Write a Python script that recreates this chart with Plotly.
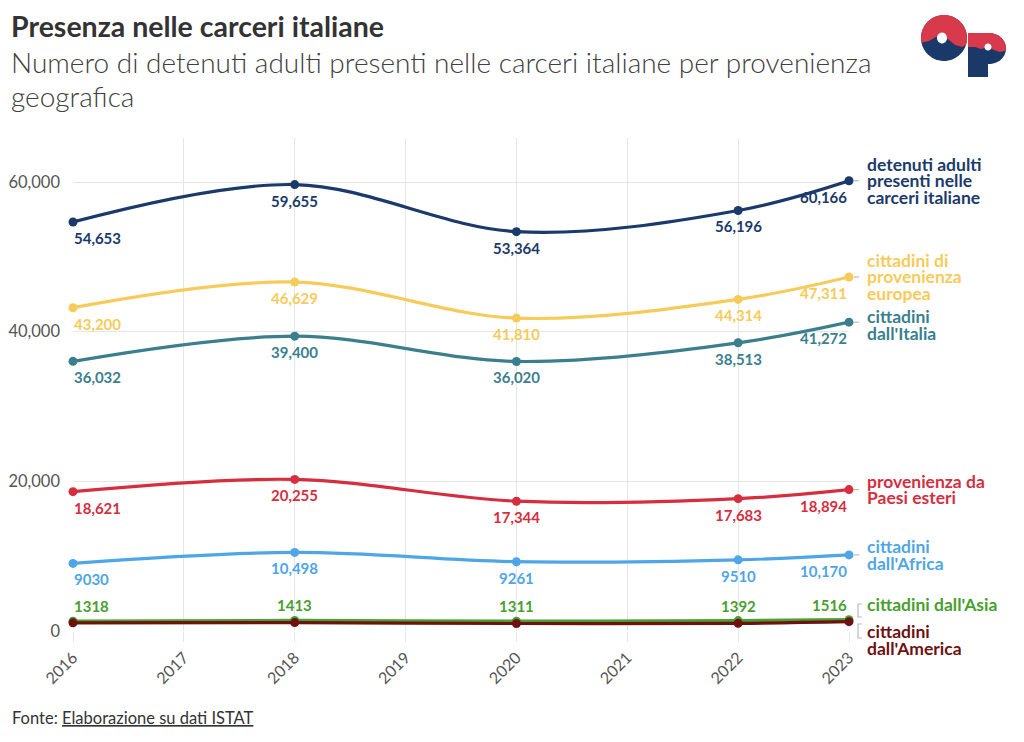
import plotly.graph_objects as go
import numpy as np

# ---------------- data ----------------
years = [2016, 2018, 2020, 2022, 2023]
detenuti = [54653, 59655, 53364, 56196, 60166]
europea = [43200, 46629, 41810, 44314, 47311]
italia = [36032, 39400, 36020, 38513, 41272]
esteri = [18621, 20255, 17344, 17683, 18894]
africa = [9030, 10498, 9261, 9510, 10170]
asia = [1318, 1413, 1311, 1392, 1516]
america = [1090, 1120, 1000, 1030, 1250]

series_labels = [
    "detenuti adulti|presenti nelle|carceri italiane",
    "cittadini di|provenienza|europea",
    "cittadini|dall'Italia",
    "provenienza da|Paesi esteri",
    "cittadini|dall'Africa",
    "cittadini dall'Asia",
    "cittadini|dall'America",
]
x_ticks = [2016, 2017, 2018, 2019, 2020, 2021, 2022, 2023]
y_ticks = [0, 20000, 40000, 60000]

# ---------------- styles ----------------
colors = ["#1b3a6b", "#f7cb5a", "#3b7f8e", "#d52f3f", "#4fa6e6", "#48a02f", "#6e1111"]
series = [detenuti, europea, italia, esteri, africa, asia, america]
label_pos = ["below", "below", "below", "below", "below", "above", None]
label_shift = [0, 0, -3, 0, 0, 15, -18]

FONT = "Lato"
OFF = 8  # page body margin
L, R, T, B = 73, 849, 138, 631
W, H = R - L, B - T
YMAX = 65880
FIG_W, FIG_H = 1024 - OFF, 742 - OFF


def px(x):
    return (x - L) / W


def py(y):
    return (B - y) / H


def fmt(v):
    return f"{v:,}" if v >= 10000 else str(v)


fig = go.Figure()

for i in range(len(series)):
    fig.add_trace(go.Scatter(
        x=years, y=series[i], mode="lines+markers",
        line=dict(color=colors[i], width=3.2, shape="spline", smoothing=1.0),
        marker=dict(color=colors[i], size=9),
        cliponaxis=False, hoverinfo="skip", showlegend=False,
    ))

annotations = []
# value labels
for i, vals in enumerate(series):
    pos = label_pos[i]
    if pos is None:
        continue
    for j, (yr, v) in enumerate(zip(years, vals)):
        if j == 0:
            xa, xs = "left", -1
        elif j == len(years) - 1:
            xa, xs = "right", 0
        else:
            xa, xs = "center", 0
        annotations.append(dict(
            x=yr, y=v, xref="x", yref="y", text=f"<b>{fmt(v)}</b>",
            showarrow=False, xanchor=xa, yanchor="middle", xshift=xs,
            yshift=(-16 if pos == "below" else 15),
            font=dict(family=FONT, size=15, color=colors[i]),
        ))

# right-side series labels
LINE_H = 16.7
for i, lab in enumerate(series_labels):
    lines = lab.split("|")
    n = len(lines)
    v = series[i][-1]
    for k, t in enumerate(lines):
        annotations.append(dict(
            x=px(865), y=v, xref="paper", yref="y", text=f"<b>{t}</b>",
            showarrow=False, xanchor="left", yanchor="middle",
            yshift=label_shift[i] - (k - (n - 1) / 2) * LINE_H,
            font=dict(family=FONT, size=17.5, color=colors[i]),
        ))

# title / subtitle / footer
annotations.append(dict(x=px(9), y=py(26), xref="paper", yref="paper",
                        text="<b>Presenza nelle carceri italiane</b>", showarrow=False,
                        xanchor="left", yanchor="middle",
                        font=dict(family=FONT, size=28.5, color="#333333")))
annotations.append(dict(x=px(9), y=py(62), xref="paper", yref="paper",
                        text="Numero di detenuti adulti presenti nelle carceri italiane per provenienza",
                        showarrow=False, xanchor="left", yanchor="middle",
                        font=dict(family=FONT, size=28, color="#404040", weight=300)))
annotations.append(dict(x=px(9), y=py(96), xref="paper", yref="paper",
                        text="geografica", showarrow=False, xanchor="left", yanchor="middle",
                        font=dict(family=FONT, size=28, color="#404040", weight=300)))
annotations.append(dict(x=px(10), y=py(718), xref="paper", yref="paper",
                        text="Fonte: <span style='text-decoration:underline'>Elaborazione su dati ISTAT</span>",
                        showarrow=False, xanchor="left", yanchor="middle",
                        font=dict(family=FONT, size=16.5, color="#333333")))

shapes = []
# connectors
for i in range(5):
    v = series[i][-1]
    shapes.append(dict(type="line", xref="paper", yref="y", x0=px(854), x1=px(859),
                       y0=v, y1=v, line=dict(color="#bbbbbb", width=1.2)))
# brackets for Asia / America
shapes.append(dict(type="path", xref="paper", yref="paper",
                   path=f"M {px(862)},{py(604)} L {px(858)},{py(604)} L {px(858)},{py(617)} L {px(862)},{py(617)}",
                   line=dict(color="#bbbbbb", width=1.2)))
shapes.append(dict(type="path", xref="paper", yref="paper",
                   path=f"M {px(862)},{py(624)} L {px(858)},{py(624)} L {px(858)},{py(638)} L {px(862)},{py(638)}",
                   line=dict(color="#bbbbbb", width=1.2)))


# ---------------- logo (decoration) ----------------
def path_from(pts):
    return "M " + " L ".join(f"{px(x)},{py(y)}" for x, y in pts) + " Z"


def arc(cx, cy, r, a0, a1, n=40, ry=None):
    ry = r if ry is None else ry
    a = np.radians(np.linspace(a0, a1, n))
    return [(cx + r * np.cos(t), cy - ry * np.sin(t)) for t in a]


RED, NAVY = "#d83a4b", "#1a3868"
shapes.append(dict(type="path", xref="paper", yref="paper",
                   path=path_from(arc(944, 38, 23, 0, 360, 60)),
                   fillcolor=NAVY, line=dict(width=0)))
o_top = arc(944, 38, 23, 192, -18, 50) + [(962, 47), (955, 45), (949, 40), (943, 36),
                                           (936, 37), (929, 41)]
shapes.append(dict(type="path", xref="paper", yref="paper", path=path_from(o_top),
                   fillcolor=RED, line=dict(width=0)))
shapes.append(dict(type="path", xref="paper", yref="paper",
                   path=path_from([(968, 34), (988, 34), (988, 77), (968, 77)]),
                   fillcolor=NAVY, line=dict(width=0)))
shapes.append(dict(type="path", xref="paper", yref="paper",
                   path=path_from(arc(989, 48.5, 17, 0, 360, 60, ry=15.5)),
                   fillcolor=NAVY, line=dict(width=0)))
p_top = [(968, 47), (968, 33)] + arc(989, 48.5, 17, 90, -8, 30, ry=15.5) + \
        [(1000, 52), (994, 50), (988, 47), (981, 49), (975, 47)]
shapes.append(dict(type="path", xref="paper", yref="paper", path=path_from(p_top),
                   fillcolor=RED, line=dict(width=0)))
shapes.append(dict(type="path", xref="paper", yref="paper",
                   path=path_from(arc(942, 38, 5, 0, 360, 30, ry=5.5)),
                   fillcolor="white", line=dict(width=0)))
shapes.append(dict(type="path", xref="paper", yref="paper",
                   path=path_from(arc(988, 47, 3.5, 0, 360, 30)),
                   fillcolor="white", line=dict(width=0)))

fig.update_layout(
    width=FIG_W, height=FIG_H,
    margin=dict(l=L - OFF, r=FIG_W - (R - OFF), t=T - OFF, b=FIG_H - (B - OFF), pad=0),
    paper_bgcolor="white", plot_bgcolor="white",
    font=dict(family=FONT, color="#444444"),
    annotations=annotations, shapes=shapes,
    xaxis=dict(range=[2016, 2023], tickvals=x_ticks, ticktext=[str(t) for t in x_ticks],
               tickangle=-45, showgrid=True, gridcolor="#e6e6e6", gridwidth=1,
               ticks="outside", ticklen=10, tickcolor="#e6e6e6",
               showline=False, zeroline=False, automargin=False,
               tickfont=dict(family=FONT, size=16, color="#555555")),
    yaxis=dict(range=[0, YMAX], tickvals=y_ticks, ticktext=[f"{t:,}" for t in y_ticks],
               showgrid=True, gridcolor="#e6e6e6", gridwidth=1, zeroline=False,
               showline=False, ticklabelstandoff=12, automargin=False,
               tickfont=dict(family=FONT, size=16.5, color="#555555")),
)

fig.write_html("out.html")
